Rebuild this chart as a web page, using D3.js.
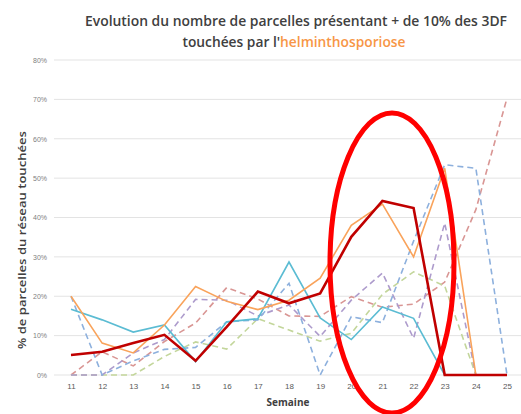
<!DOCTYPE html>
<html><head><meta charset="utf-8">
<script src="https://cdn.jsdelivr.net/npm/d3@7"></script>
<style>body{margin:0;background:#fff}svg{display:block}</style>
</head><body>
<script>
const weeks = [11,12,13,14,15,16,17,18,19,20,21,22,23,24,25];
const yTicks = [0,0.1,0.2,0.3,0.4,0.5,0.6,0.7,0.8];
// values in %
const pinkDashed   = [0, 5.9, 2.3, 8.5, 13.2, 22.2, 19.3, 15, 14.9, 19.9, 17.2, 18, 23.6, 42, 70.3];
const greenDashed  = [0, 0, 0, 4.7, 8.4, 6.6, 14.3, 11.4, 8.6, 10.6, 20.5, 26.2, 22.6, 0, null];
const purpleDashed = [0, 0, 5.6, 9, 19.2, 19, 15, 17.8, 9.8, 19, 25.9, 9.3, 38.6, 0, null];
const blueDashed   = [20, 0, 3.6, 6.5, 7, 13.5, 14, 23.3, 0, 14.8, 13.3, 34, 53.4, 52.5, 0];
const cyanSolid    = [16.7, 14, 10.9, 12.7, 3.4, 13.5, 14.3, 28.7, 14.5, 9, 17.3, 14.4, 0, null, null];
const orangeSolid  = [20, 8.1, 5.6, 12.7, 22.5, 18.7, 16.6, 19, 24.6, 38, 43.4, 30, 52.5, 0, null];
const redSolid     = [5.1, 5.9, 8.1, 10.2, 3.6, 12.2, 21.2, 18.2, 20.7, 35.1, 44.2, 42.4, 0, 0, 0];

const W = 521, H = 414;
const svg = d3.select("body").append("svg").attr("width", W).attr("height", H);
const x = d3.scalePoint().domain(weeks).range([71, 507]);
const y = d3.scaleLinear().domain([0, 0.8]).range([375, 60]);

// gridlines
svg.append("g").selectAll("line").data(yTicks).join("line")
  .attr("x1", 54).attr("x2", W).attr("y1", d => y(d)).attr("y2", d => y(d))
  .attr("stroke", "#e3e3e3").attr("stroke-width", 1);

// y axis labels
const yAxis = d3.axisLeft(y).tickValues(yTicks).tickFormat(d3.format(".0%")).tickSize(0).tickPadding(0);
const gy = svg.append("g").attr("transform", "translate(47,0)").call(yAxis);
gy.select(".domain").remove();
gy.selectAll("text").attr("font-family", "Liberation Sans, Arial, sans-serif").attr("font-size", 7).attr("fill", "#808080");

// x axis labels
const xAxis = d3.axisBottom(x).tickSize(0).tickPadding(0);
const gx = svg.append("g").attr("transform", "translate(0,383)").call(xAxis);
gx.select(".domain").remove();
gx.selectAll("text").attr("font-family", "Liberation Sans, Arial, sans-serif").attr("font-size", 8).attr("fill", "#595959");

const series = [
  {v: pinkDashed,   c: "#d99694", w: 1.6, dash: "6,4"},
  {v: greenDashed,  c: "#c3d69b", w: 1.6, dash: "6,4"},
  {v: purpleDashed, c: "#ad9bcc", w: 1.6, dash: "6,4"},
  {v: blueDashed,   c: "#8db0dd", w: 1.6, dash: "6,4"},
  {v: cyanSolid,    c: "#5bbcd3", w: 1.6, dash: null},
  {v: orangeSolid,  c: "#f9a35b", w: 1.6, dash: null},
  {v: redSolid,     c: "#c00000", w: 2.6, dash: null}
];
const line = d3.line()
  .defined(d => d.v !== null)
  .x(d => x(d.w)).y(d => y(d.v / 100));
series.forEach(s => {
  const pts = weeks.map((w, i) => ({w, v: s.v[i]}));
  svg.append("path").datum(pts).attr("d", line)
    .attr("fill", "none").attr("stroke", s.c).attr("stroke-width", s.w)
    .attr("stroke-dasharray", s.dash).attr("stroke-linejoin", "miter");
});

// ellipse annotation
svg.append("ellipse").attr("cx", 392).attr("cy", 263).attr("rx", 62).attr("ry", 150)
  .attr("fill", "none").attr("stroke", "#ff0000").attr("stroke-width", 5);

// title
const tf = "Open Sans, Liberation Sans, Arial, sans-serif";
svg.append("text").attr("x", 296).attr("y", 26).attr("text-anchor", "middle")
  .attr("font-family", tf).attr("font-size", 14).attr("font-weight", 600).attr("fill", "#404040")
  .attr("textLength", 422).attr("lengthAdjust", "spacingAndGlyphs")
  .text("Evolution du nombre de parcelles présentant + de 10% des 3DF");
const t2 = svg.append("text").attr("x", 294).attr("y", 47).attr("text-anchor", "middle")
  .attr("font-family", tf).attr("font-size", 14).attr("font-weight", 600).attr("fill", "#404040")
  .attr("textLength", 223).attr("lengthAdjust", "spacingAndGlyphs");
t2.append("tspan").text("touchées par l'");
t2.append("tspan").attr("fill", "#f79646").text("helminthosporiose");

// y title
svg.append("text").attr("transform", "translate(26,240) rotate(-90)").attr("text-anchor", "middle")
  .attr("font-family", tf).attr("font-size", 11).attr("font-weight", 600).attr("fill", "#404040")
  .attr("textLength", 218).attr("lengthAdjust", "spacingAndGlyphs")
  .text("% de parcelles du réseau touchées");

// x title
svg.append("text").attr("x", 288).attr("y", 406).attr("text-anchor", "middle")
  .attr("font-family", tf).attr("font-size", 10).attr("font-weight", 700).attr("fill", "#404040")
  .text("Semaine");
</script>
</body></html>
